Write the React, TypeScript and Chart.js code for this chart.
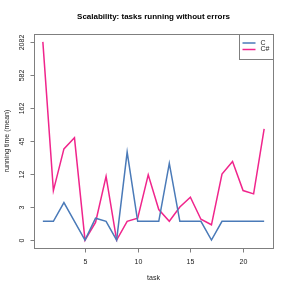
import React, { useEffect, useRef } from "react";
import { Chart, registerables } from "chart.js";

Chart.register(...registerables);

const tasks = Array.from({ length: 22 }, (_, i) => i + 1);
const cValues = [1.2, 1.2, 3.7, 1.2, 0, 1.5, 1.2, 0, 29, 1.2, 1.2, 1.2, 18.5, 1.2, 1.2, 1.2, 0, 1.2, 1.2, 1.2, 1.2, 1.2];
const csValues = [2082, 6.2, 33, 51, 0, 1.1, 11, 0, 1.2, 1.5, 11.6, 2.6, 1.2, 3, 4.7, 1.4, 0.9, 12, 20, 6.2, 5.4, 72];
const yTickLabels = ["0", "3", "12", "45", "162", "582", "2082"];
const xTickLabels = ["5", "10", "15", "20"];

const tickVals = yTickLabels.map(Number);
function toPos(v: number): number {
  const u = Math.log(v + 1);
  const U = tickVals.map((t) => Math.log(t + 1));
  for (let i = 0; i < U.length - 1; i++) {
    if (u <= U[i + 1] || i === U.length - 2) {
      return i + (u - U[i]) / (U[i + 1] - U[i]);
    }
  }
  return 0;
}

const FONT = "'Liberation Sans', Arial, Helvetica, sans-serif";

export default function App() {
  const ref = useRef<HTMLCanvasElement>(null);
  useEffect(() => {
    if (!ref.current) return;
    const decor = {
      id: "decor",
      afterDraw(chart: any) {
        const ctx = chart.ctx;
        const a = chart.chartArea;
        const xs = chart.scales.x;
        const ys = chart.scales.y;
        ctx.save();
        ctx.strokeStyle = "#7f7f7f";
        ctx.lineWidth = 1;
        ctx.strokeRect(Math.round(a.left) + 0.5, Math.round(a.top) + 0.5, Math.round(a.right - a.left), Math.round(a.bottom - a.top));
        ctx.fillStyle = "#222";
        ctx.font = `7px ${FONT}`;
        // x ticks
        ctx.textAlign = "center";
        ctx.textBaseline = "middle";
        const bx = Math.round(a.bottom) + 0.5;
        xTickLabels.forEach((l) => {
          const px = Math.round(xs.getPixelForValue(Number(l))) + 0.5;
          ctx.beginPath();
          ctx.moveTo(px, bx);
          ctx.lineTo(px, bx + 4);
          ctx.stroke();
          ctx.fillText(l, px, bx + 14);
        });
        // y ticks
        const lx = Math.round(a.left) + 0.5;
        yTickLabels.forEach((l, i) => {
          const py = Math.round(ys.getPixelForValue(i)) + 0.5;
          ctx.beginPath();
          ctx.moveTo(lx, py);
          ctx.lineTo(lx - 4, py);
          ctx.stroke();
          ctx.save();
          ctx.translate(lx - 12, py);
          ctx.rotate(-Math.PI / 2);
          ctx.fillText(l, 0, 0);
          ctx.restore();
        });
        // axis titles
        ctx.fillText("task", (a.left + a.right) / 2, 278);
        ctx.save();
        ctx.translate(7, (a.top + a.bottom) / 2);
        ctx.rotate(-Math.PI / 2);
        ctx.fillText("running time (mean)", 0, 0);
        ctx.restore();
        // title
        ctx.fillStyle = "#000";
        ctx.font = `bold 8px ${FONT}`;
        ctx.fillText("Scalability: tasks running without errors", (a.left + a.right) / 2, 17);
        // legend
        const L = Math.round(a.right) - 34 + 0.5;
        const T = Math.round(a.top) + 0.5;
        ctx.fillStyle = "#fff";
        ctx.fillRect(L, T, Math.round(a.right) + 0.5 - L, 25);
        ctx.strokeRect(L, T, Math.round(a.right) + 0.5 - L, 25);
        const items = [
          { t: "C", c: "#4a7ab8", y: 43 },
          { t: "C#", c: "#f0258c", y: 49.5 },
        ];
        ctx.font = `7px ${FONT}`;
        ctx.textAlign = "left";
        items.forEach((it) => {
          ctx.strokeStyle = it.c;
          ctx.lineWidth = 1.5;
          ctx.beginPath();
          ctx.moveTo(L + 3, it.y);
          ctx.lineTo(L + 16, it.y);
          ctx.stroke();
          ctx.fillStyle = "#222";
          ctx.fillText(it.t, L + 21, it.y);
        });
        ctx.restore();
      },
    };
    const chart = new Chart(ref.current, {
      type: "line",
      data: {
        datasets: [
          {
            label: "C",
            data: tasks.map((t, i) => ({ x: t, y: toPos(cValues[i]) })),
            borderColor: "#4a7ab8",
            borderWidth: 1.5,
            pointRadius: 0,
            tension: 0,
          },
          {
            label: "C#",
            data: tasks.map((t, i) => ({ x: t, y: toPos(csValues[i]) })),
            borderColor: "#f0258c",
            borderWidth: 1.5,
            pointRadius: 0,
            tension: 0,
          },
        ],
      },
      options: {
        animation: false,
        responsive: false,
        layout: { padding: { left: 34, right: 18, top: 34, bottom: 43 } },
        plugins: { legend: { display: false }, title: { display: false }, tooltip: { enabled: false } },
        scales: {
          x: { type: "linear", min: 0.16, max: 22.84, display: false },
          y: { type: "linear", min: -0.24, max: 6.24, display: false },
        },
      },
      plugins: [decor],
    });
    return () => chart.destroy();
  }, []);
  return (
    <div style={{ position: "fixed", left: 0, top: 0, width: 291, height: 291, background: "#fff" }}>
      <canvas ref={ref} width={291} height={291} style={{ width: 291, height: 291 }} />
    </div>
  );
}
